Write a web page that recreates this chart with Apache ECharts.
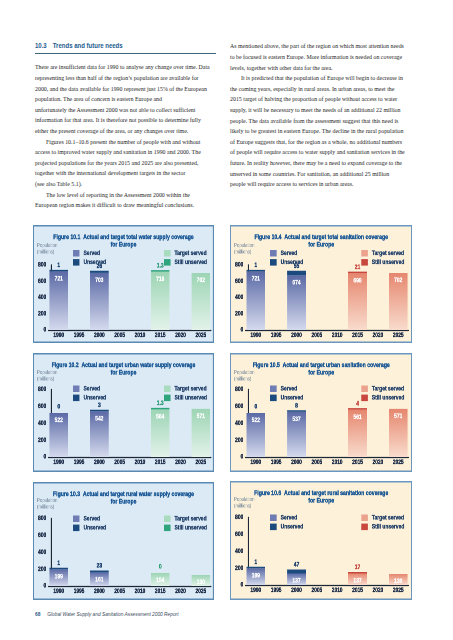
<!DOCTYPE html>
<html><head><meta charset="utf-8">
<script src="https://cdn.jsdelivr.net/npm/echarts@6/dist/echarts.min.js"></script>
<style>
html,body{margin:0;padding:0;background:#fff;}
#page{position:relative;width:453px;height:640px;overflow:hidden;background:#fff;}
.ln{position:absolute;white-space:nowrap;font-family:"Liberation Serif","DejaVu Serif",serif;font-size:5.9px;line-height:10.6px;height:10.6px;color:#262626;}
.hd{position:absolute;left:35px;top:41px;font-family:"Liberation Sans",Arial,sans-serif;font-weight:bold;font-size:7px;color:#225c8e;white-space:nowrap;line-height:10px;transform:scaleX(0.86);transform-origin:0 0;}
.rule{position:absolute;left:35px;top:53px;width:181px;height:1px;background:#3a6679;}
.chart{position:absolute;overflow:hidden;}
.foot{position:absolute;left:35px;top:610px;white-space:nowrap;line-height:8px;font-family:"Liberation Sans",Arial,sans-serif;font-size:5.6px;color:#3c4c5c;transform:scaleX(0.86);transform-origin:0 0;}
.foot b{color:#2a5a8a;margin-right:8px;}
.foot i{font-style:italic;}
</style>
</head>
<body>
<div id="page">
  <div class="hd">10.3<span style="margin-left:7px">Trends and future needs</span></div>
  <div class="rule"></div>
  <div id="left"></div>
  <div id="right"></div>
  <div class="chart" id="c1" style="left:33px;top:225px;width:181px;height:118px"></div>
  <div class="chart" id="c4" style="left:230px;top:225px;width:182px;height:118px"></div>
  <div class="chart" id="c2" style="left:33px;top:353px;width:181px;height:119px"></div>
  <div class="chart" id="c5" style="left:230px;top:353px;width:182px;height:119px"></div>
  <div class="chart" id="c3" style="left:33px;top:482px;width:181px;height:118px"></div>
  <div class="chart" id="c6" style="left:230px;top:481px;width:182px;height:119px"></div>
  <div class="foot"><b>68</b><i>Global Water Supply and Sanitation Assessment 2000 Report</i></div>
</div>
<script>
// ---------- data ----------
const years = ['1990','1995','2000','2005','2010','2015','2020','2025'];
const actualYears = ['1990','2000'];
const targetYears = ['2015','2025'];
const yTicks = [0, 200, 400, 600, 800];

// Figure 10.1 total water supply
const totalWaterServed = [721, 703];
const totalWaterUnserved = [1, 26];
const totalWaterTargetServed = [718, 702];
const totalWaterStillUnserved = [1.3, null];
// Figure 10.2 urban water supply
const urbanWaterServed = [522, 542];
const urbanWaterUnserved = [0, 3];
const urbanWaterTargetServed = [564, 571];
const urbanWaterStillUnserved = [1.3, null];
// Figure 10.3 rural water supply
const ruralWaterServed = [199, 161];
const ruralWaterUnserved = [1, 23];
const ruralWaterTargetServed = [154, 130];
const ruralWaterStillUnserved = [0, null];
// Figure 10.4 total sanitation
const totalSanServed = [721, 674];
const totalSanUnserved = [1, 55];
const totalSanTargetServed = [698, 702];
const totalSanStillUnserved = [21, null];
// Figure 10.5 urban sanitation
const urbanSanServed = [522, 537];
const urbanSanUnserved = [0, 8];
const urbanSanTargetServed = [561, 571];
const urbanSanStillUnserved = [4, null];
// Figure 10.6 rural sanitation
const ruralSanServed = [199, 137];
const ruralSanUnserved = [1, 47];
const ruralSanTargetServed = [137, 130];
const ruralSanStillUnserved = [17, null];

// ---------- page text ----------
const leftLines = [
  [0,'There are insufficient data for 1990 to analyse any change over time. Data'],
  [0,'representing less than half of the region\u2019s population are available for'],
  [0,'2000, and the data available for 1990 represent just 15% of the European'],
  [0,'population. The area of concern is eastern Europe and'],
  [0,'unfortunately the Assessment 2000 was not able to collect sufficient'],
  [0,'information for that area. It is therefore not possible to determine fully'],
  [0,'either the present coverage of the area, or any changes over time.'],
  [1,'Figures 10.1\u201310.6 present the number of people with and without'],
  [0,'access to improved water supply and sanitation in 1990 and 2000. The'],
  [0,'projected populations for the years 2015 and 2025 are also presented,'],
  [0,'together with the international development targets in the sector'],
  [0,'(see also Table 5.1).'],
  [1,'The low level of reporting in the Assessment 2000 within the'],
  [0,'European region makes it difficult to draw meaningful conclusions.']
];
const rightLines = [
  [0,'As mentioned above, the part of the region on which most attention needs'],
  [0,'to be focused is eastern Europe. More information is needed on coverage'],
  [0,'levels, together with other data for the area.'],
  [1,'It is predicted that the population of Europe will begin to decrease in'],
  [0,'the coming years, especially in rural areas. In urban areas, to meet the'],
  [0,'2015 target of halving the proportion of people without access to water'],
  [0,'supply, it will be necessary to meet the needs of an additional 22 million'],
  [0,'people. The data available from the assessment suggest that this need is'],
  [0,'likely to be greatest in eastern Europe. The decline in the rural population'],
  [0,'of Europe suggests that, for the region as a whole, no additional numbers'],
  [0,'of people will require access to water supply and sanitation services in the'],
  [0,'future. In reality however, there may be a need to expand coverage to the'],
  [0,'unserved in some countries. For sanitation, an additional 25 million'],
  [0,'people will require access to services in urban areas.']
];
function writeLines(host, lines, x, y0) {
  lines.forEach((l, i) => {
    const d = document.createElement('div');
    d.className = 'ln';
    d.style.left = (x + (l[0] ? 11 : 0)) + 'px';
    d.style.top = (y0 + i * 10.6) + 'px';
    d.textContent = l[1];
    host.appendChild(d);
  });
}
writeLines(document.getElementById('left'), leftLines, 35, 62.4);
writeLines(document.getElementById('right'), rightLines, 230, 41.4);

// ---------- charts ----------
// the reference uses a condensed typeface; charts are drawn wider and squeezed horizontally by S
const S = 0.8;
const FONT = '"Liberation Sans",Arial,sans-serif';
const AX = '#1c2838';
const LBL = '#1a2a46';
const THEMES = {
  water: {bg:'#dceaf5', border:'#5a89b4', tTop:'#9dd5b5', tBot:'#e3f3ea', still:'#2ea57d', stillLbl:'#2a9a74', tLeg:'#a9dbbf'},
  san:   {bg:'#fdf1d9', border:'#6a96bf', tTop:'#e6876f', tBot:'#f9dccd', still:'#c8473f', stillLbl:'#c8473f', tLeg:'#eba38e'}
};
function grad(a, b) {
  return new echarts.graphic.LinearGradient(0, 0, 0, 1, [{offset:0, color:a}, {offset:1, color:b}]);
}
function bold(col, size, extra) {
  return Object.assign({color:col, fontSize:size, fontWeight:'bold', fontFamily:FONT, textBorderColor:col, textBorderWidth:0.35}, extra || {});
}
function place(vals, yrs, hideZero) {
  const arr = years.map(() => null);
  yrs.forEach((y, k) => {
    const v = vals[k];
    if (v === null || v === undefined) return;
    const i = years.indexOf(y);
    arr[i] = (hideZero && v === 0) ? {value:0, itemStyle:{color:'rgba(0,0,0,0)'}} : v;
  });
  return arr;
}
function build(id, c) {
  const box = document.getElementById(id);
  const w = box.clientWidth, h = box.clientHeight;
  const W = w / S;
  const inner = document.createElement('div');
  inner.style.cssText = 'position:absolute;left:0;top:0;width:' + W + 'px;height:' + h + 'px;transform:scaleX(' + S + ');transform-origin:0 0;';
  box.appendChild(inner);
  const th = THEMES[c.kind];
  const chart = echarts.init(inner, null, {width:W, height:h, devicePixelRatio:2});
  const lblIn = bold('#ffffff', 6.2, {show:true, position:'insideTop', distance:4.5, textBorderWidth:0.25});
  const lblTop = (col) => bold(col, 6.2, {show:true, position:'top', distance:1.5});
  const legBase = {orient:'vertical', top:c.legTop, itemWidth:6.5 / S, itemHeight:6.5, itemGap:2.6, icon:'rect', selectedMode:false,
    textStyle:bold('#22406a', 6.2, {textBorderWidth:0.3})};
  chart.setOption({
    animation:false,
    backgroundColor:th.bg,
    textStyle:{fontFamily:FONT},
    title:{text:c.title + '\nfor Europe', left:'center', top:3.3,
      textStyle:bold('#1d5a97', 6.4, {lineHeight:7.7, textBorderWidth:0.4})},
    graphic:[
      {type:'rect', silent:true, z:100, shape:{x:0.75, y:0.75, width:W - 1.5, height:h - 1.5}, style:{fill:'none', stroke:th.border, lineWidth:1.5}},
      {type:'text', silent:true, left:4 / S, top:c.popTop, style:{text:'Population\n(millions)', fontSize:5.4, lineHeight:6.2, fill:'#7a8c9f', fontFamily:FONT}}
    ],
    legend:[
      Object.assign({}, legBase, {left:36 / S, data:[{name:'Served', itemStyle:{color:'#6f7db4'}}, {name:'Unserved', itemStyle:{color:'#1b4b7e'}}]}),
      Object.assign({}, legBase, {left:127 / S, data:[{name:'Target served', itemStyle:{color:th.tLeg}}, {name:'Still unserved', itemStyle:{color:th.still}}]})
    ],
    grid:{left:15.6 / S, top:c.gridTop, height:c.gridH, width:162.4 / S},
    xAxis:{type:'category', data:years, axisTick:{show:false},
      axisLine:{lineStyle:{color:AX, width:1.3}},
      axisLabel:bold(LBL, 6, {interval:0, margin:2.5})},
    yAxis:{type:'value', min:yTicks[0], max:yTicks[yTicks.length-1], interval:yTicks[1]-yTicks[0], offset:-2.2 / S,
      splitLine:{show:false}, axisTick:{show:false},
      axisLine:{show:true, lineStyle:{color:AX, width:1.6}},
      axisLabel:bold(LBL, 6.2, {margin:4.5 / S})},
    series:[
      {name:'Served', type:'bar', stack:'s', barWidth:18.5 / S, data:place(c.served, actualYears),
        itemStyle:{color:grad('#5b6aa6', '#d5daee')}, label:lblIn},
      {name:'Unserved', type:'bar', stack:'s', barMinHeight:1.5, data:place(c.unserved, actualYears, true),
        itemStyle:{color:'#1b4b7e'}, label:lblTop('#1b3f6e')},
      {name:'Target served', type:'bar', stack:'s', data:place(c.tServed, targetYears),
        itemStyle:{color:grad(th.tTop, th.tBot)}, label:lblIn},
      {name:'Still unserved', type:'bar', stack:'s', barMinHeight:1.5, data:place(c.still, targetYears, true),
        itemStyle:{color:th.still}, label:lblTop(th.stillLbl)}
    ]
  });
}
const row1 = {legTop:20, popTop:17.5, gridTop:40, gridH:65};
const row2 = {legTop:27.5, popTop:16.5, gridTop:36.5, gridH:67.5};
const row3 = {legTop:28.5, popTop:15.5, gridTop:36.5, gridH:67.5};
build('c1', Object.assign({kind:'water', title:'Figure 10.1  Actual and target total water supply coverage',
  served:totalWaterServed, unserved:totalWaterUnserved, tServed:totalWaterTargetServed, still:totalWaterStillUnserved}, row1));
build('c2', Object.assign({kind:'water', title:'Figure 10.2  Actual and target urban water supply coverage',
  served:urbanWaterServed, unserved:urbanWaterUnserved, tServed:urbanWaterTargetServed, still:urbanWaterStillUnserved}, row2));
build('c3', Object.assign({kind:'water', title:'Figure 10.3  Actual and target rural water supply coverage',
  served:ruralWaterServed, unserved:ruralWaterUnserved, tServed:ruralWaterTargetServed, still:ruralWaterStillUnserved}, row3));
build('c4', Object.assign({kind:'san', title:'Figure 10.4  Actual and target total sanitation coverage',
  served:totalSanServed, unserved:totalSanUnserved, tServed:totalSanTargetServed, still:totalSanStillUnserved}, row1));
build('c5', Object.assign({kind:'san', title:'Figure 10.5  Actual and target urban sanitation coverage',
  served:urbanSanServed, unserved:urbanSanUnserved, tServed:urbanSanTargetServed, still:urbanSanStillUnserved}, row2));
build('c6', Object.assign({kind:'san', title:'Figure 10.6  Actual and target rural sanitation coverage',
  served:ruralSanServed, unserved:ruralSanUnserved, tServed:ruralSanTargetServed, still:ruralSanStillUnserved}, row3));
</script>
</body></html>
